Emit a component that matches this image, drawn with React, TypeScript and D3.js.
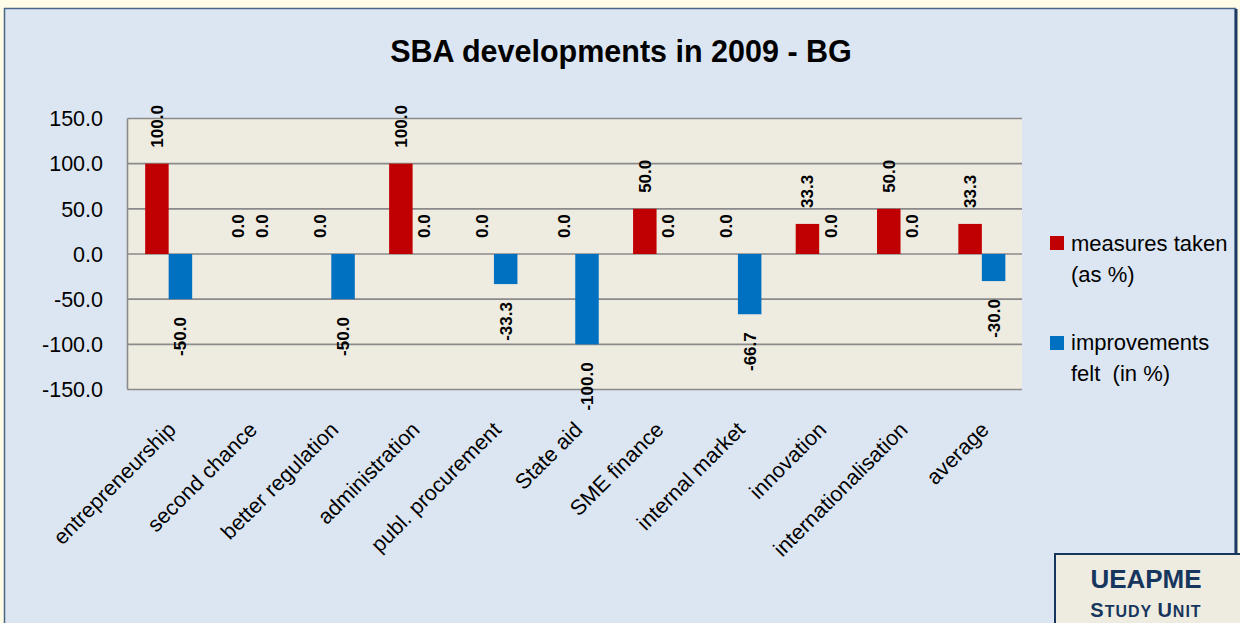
import React from 'react';
import * as d3 from 'd3';

// data
const categories = [
  'entrepreneurship', 'second chance', 'better regulation', 'administration',
  'publ. procurement', 'State aid', 'SME finance', 'internal market',
  'innovation', 'internationalisation', 'average',
];
const measuresTaken = [100, 0, 0, 100, 0, 0, 50, 0, 33.3, 50, 33.3];
const improvementsFelt = [-50, 0, -50, 0, -33.3, -100, 0, -66.7, 0, 0, -30];
const yTicks = [150, 100, 50, 0, -50, -100, -150];

const seriesNames = ['measures taken', 'improvements felt'];
const seriesColors = ['#c00000', '#0070c0'];

const W = 1240;
const H = 623;
const plot = { left: 127.5, right: 1022, top: 118.5, bottom: 389.5 };
const font = '"Liberation Sans", Arial, sans-serif';

// plain hyphen minus like the original, not d3's unicode minus
const fmt = (v: number) => v.toFixed(1);

const App = () => {
  const x0 = d3.scaleBand<string>()
    .domain(categories)
    .range([plot.left, plot.right]);

  const x1 = d3.scaleBand<string>()
    .domain(seriesNames)
    .range([x0.bandwidth() / 2 - 23, x0.bandwidth() / 2 + 24]);

  const y = d3.scaleLinear()
    .domain([-150, 150])
    .range([plot.bottom, plot.top]);

  const values = [measuresTaken, improvementsFelt];

  return (
    <svg width={W} height={H} style={{ position: 'absolute', left: 0, top: 0 }} fontFamily={font}>
      {/* page + panel */}
      <rect x={0} y={0} width={W} height={H} fill="#fffde7" />
      <rect x={4.5} y={8.5} width={1231} height={630} fill="#dce6f2" stroke="#4a6689" strokeWidth={1.5} />
      <line x1={1236} x2={1236} y1={9} y2={H} stroke="#1f3b63" strokeWidth={3} />

      {/* title */}
      <text x={621} y={62} textAnchor="middle" fontSize={30.5} fontWeight="bold" fill="#000">
        SBA developments in 2009 - BG
      </text>

      {/* plot area */}
      <rect x={plot.left} y={plot.top} width={plot.right - plot.left} height={plot.bottom - plot.top} fill="#eeece1" />
      {yTicks.map(t => (
        <line key={t} x1={plot.left} x2={plot.right} y1={y(t)} y2={y(t)} stroke="#8a8a8a" strokeWidth={1.6} />
      ))}
      <line x1={plot.left} x2={plot.left} y1={plot.top} y2={plot.bottom} stroke="#8a8a8a" strokeWidth={1.6} />

      {/* y tick labels */}
      {yTicks.map(t => (
        <text key={t} x={103} y={y(t)} dy="0.36em" textAnchor="end" fontSize={21.5} fill="#000">
          {fmt(t)}
        </text>
      ))}

      {/* bars */}
      {values.map((vals, si) => (
        <g key={si}>
          {categories.map((c, i) => {
            const v = vals[i];
            const bx = (x0(c) as number) + (x1(seriesNames[si]) as number);
            return (
              <rect key={c} x={bx} y={y(Math.max(0, v))} width={x1.bandwidth()}
                height={Math.abs(y(v) - y(0))} fill={seriesColors[si]} />
            );
          })}
        </g>
      ))}

      {/* data labels */}
      {values.map((vals, si) => (
        <g key={si}>
          {categories.map((c, i) => {
            const v = vals[i];
            const cx = (x0(c) as number) + (x1(seriesNames[si]) as number) + x1.bandwidth() / 2;
            const pos = v >= 0;
            const ly = pos ? y(v) - 16 : y(v) + 18;
            return (
              <text key={c} transform={`translate(${cx + 6},${ly}) rotate(-90)`}
                textAnchor={pos ? 'start' : 'end'} fontSize={17} fontWeight="bold" fill="#000">
                {fmt(v)}
              </text>
            );
          })}
        </g>
      ))}

      {/* category labels */}
      {categories.map(c => {
        const cx = (x0(c) as number) + x0.bandwidth() / 2;
        return (
          <text key={c} transform={`translate(${cx - 2},${420}) rotate(-45)`}
            textAnchor="end" dy="0.72em" fontSize={21.5} fill="#000">
            {c}
          </text>
        );
      })}

      {/* legend */}
      <rect x={1050} y={236} width={14} height={14} fill={seriesColors[0]} />
      <text x={1071} y={251} fontSize={22} fill="#000">measures taken</text>
      <text x={1071} y={281.5} fontSize={22} fill="#000">(as %)</text>
      <rect x={1050} y={336} width={14} height={14} fill={seriesColors[1]} />
      <text x={1071} y={350} fontSize={22} fill="#000">improvements</text>
      <text x={1071} y={380.5} fontSize={22} fill="#000" style={{ whiteSpace: 'pre' }}>felt  (in %)</text>

      {/* logo box */}
      <rect x={1055} y={554} width={190} height={100} fill="#eeece1" stroke="#17365d" strokeWidth={2} />
      <text x={1146} y={588} textAnchor="middle" fontSize={26} fontWeight="bold" fill="#17365d">UEAPME</text>
      <text x={1146} y={617} textAnchor="middle" fontWeight="bold" fill="#17365d" letterSpacing={1}>
        <tspan fontSize={20}>S</tspan>
        <tspan fontSize={16}>TUDY </tspan>
        <tspan fontSize={20}>U</tspan>
        <tspan fontSize={16}>NIT</tspan>
      </text>
    </svg>
  );
};

export default App;
